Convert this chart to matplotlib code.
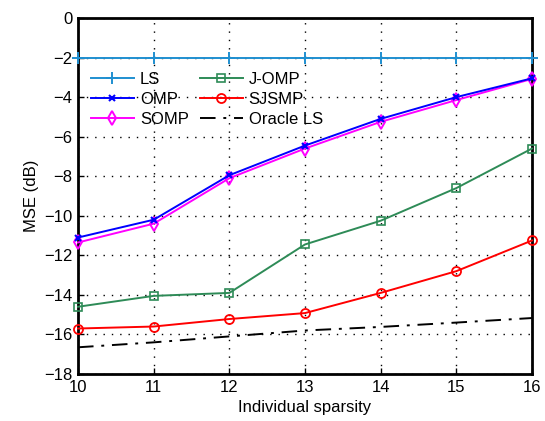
import matplotlib
matplotlib.use("Agg")
import matplotlib.pyplot as plt

plt.rcParams['font.family'] = ['Liberation Sans', 'DejaVu Sans']

sparsity = [10, 11, 12, 13, 14, 15, 16]
ls = [-2.0, -2.0, -2.0, -2.0, -2.0, -2.0, -2.0]
omp = [-11.1, -10.2, -7.95, -6.45, -5.1, -4.0, -3.05]
somp = [-11.35, -10.4, -8.1, -6.6, -5.25, -4.15, -3.08]
jomp = [-14.6, -14.05, -13.9, -11.45, -10.25, -8.6, -6.6]
sjsmp = [-15.7, -15.6, -15.22, -14.92, -13.9, -12.8, -11.25]
oracle = [-16.65, -16.4, -16.1, -15.8, -15.62, -15.4, -15.17]

xticks = [10, 11, 12, 13, 14, 15, 16]
yticks = [0, -2, -4, -6, -8, -10, -12, -14, -16, -18]

fig = plt.figure(figsize=(5.45, 4.21), dpi=100)
ax = fig.add_axes([78/545, 1 - 374/421, (532-78)/545, (374-18)/421])

lw = 1.4
ax.plot(sparsity, ls, color='#1f8fd0', marker='+', markersize=8, mew=1.4, lw=lw, label='LS', clip_on=False, zorder=5)
ax.plot(sparsity, omp, color='#0000ff', marker='x', markersize=5, mew=1.5, lw=lw, label='OMP', clip_on=False, zorder=5)
ax.plot(sparsity, somp, color='#ff00ff', marker='d', markersize=7.5, mfc='none', mew=1.4, lw=lw, label='SOMP', clip_on=False, zorder=4)
ax.plot(sparsity, jomp, color='#2e8b57', marker='s', markersize=5.5, mfc='none', mew=1.2, lw=lw, label='J-OMP', clip_on=False, zorder=5)
ax.plot(sparsity, sjsmp, color='#ff0000', marker='o', markersize=6.5, mfc='none', mew=1.3, lw=lw, label='SJSMP', clip_on=False, zorder=5)
ax.plot(sparsity, oracle, color='black', lw=lw, dashes=[8, 4, 1.5, 4], label='Oracle LS', clip_on=False, zorder=5)

ax.set_xlim(10, 16)
ax.set_ylim(-18, 0)
ax.set_xticks(xticks)
ax.set_yticks(yticks)
ax.set_yticklabels([str(v).replace('-', '\u2212') for v in yticks])
ax.grid(True, color='black', linestyle=(0, (1, 5)), linewidth=1.0)
ax.tick_params(direction='in', length=4, width=1, labelsize=12, top=False, right=False, pad=4)
for s in ax.spines.values():
    s.set_linewidth(2)
ax.set_xlabel('Individual sparsity', fontsize=12, labelpad=4)
ax.set_ylabel('MSE (dB)', fontsize=12, labelpad=4)

handles, labels = ax.get_legend_handles_labels()
leg = ax.legend(handles, labels, ncol=2, frameon=False, loc='upper left',
                bbox_to_anchor=(-0.005, 0.89), fontsize=12, handlelength=2.6,
                columnspacing=0.65, labelspacing=0.3, handletextpad=0.35)

fig.savefig('out.png', dpi=100)
